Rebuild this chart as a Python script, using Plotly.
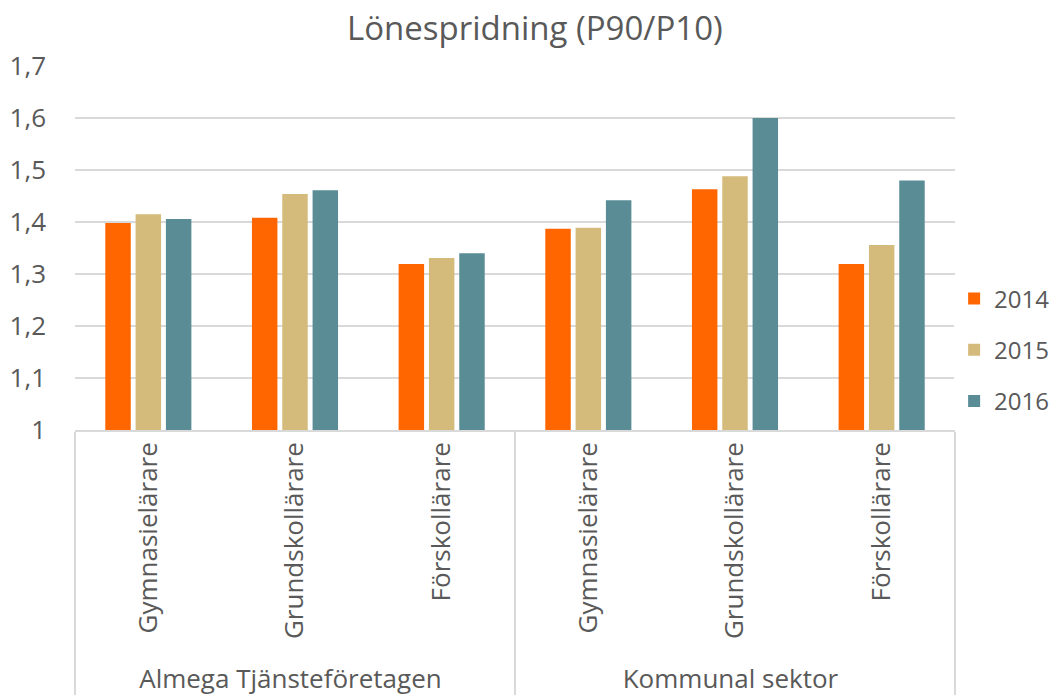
import plotly.graph_objects as go

groups = ["Almega Tjänsteföretagen"] * 3 + ["Kommunal sektor"] * 3
occupations = ["Gymnasielärare", "Grundskollärare", "Förskollärare"] * 2
years = ["2014", "2015", "2016"]
v2014 = [1.398, 1.408, 1.319, 1.387, 1.463, 1.319]
v2015 = [1.415, 1.454, 1.331, 1.389, 1.488, 1.356]
v2016 = [1.406, 1.461, 1.340, 1.442, 1.600, 1.480]
colors = ["#FF6600", "#D5BB7B", "#5A8C96"]

fig = go.Figure()
for name, vals, c in zip(years, [v2014, v2015, v2016], colors):
    fig.add_trace(go.Bar(
        x=[groups, occupations], y=vals, name=name, legendgroup=name,
        marker=dict(color=c, line=dict(width=0)),
    ))

font = "Open Sans, sans-serif"
fig.update_layout(
    width=1055, height=695,
    margin=dict(l=75, r=100, t=66, b=265, autoexpand=False),
    paper_bgcolor="white", plot_bgcolor="white",
    separators=", ",
    barmode="group", bargap=0.38, bargroupgap=0.16,
    title=dict(text="Lönespridning (P90/P10)", x=0.507, xanchor="center",
               y=0.975, yanchor="top",
               font=dict(family=font, size=33, color="#595959")),
    font=dict(family=font, size=26, color="#595959"),
    legend=dict(x=0.999, xanchor="left", y=0.22, yanchor="middle",
                font=dict(size=24, color="#595959"),
                itemwidth=30, tracegroupgap=17, traceorder="grouped"),
    yaxis=dict(range=[1, 1.7], dtick=0.1, showgrid=True, gridcolor="#D9D9D9",
               gridwidth=1.5, zeroline=False, showline=False, ticks="",
               automargin=False,
               tickfont=dict(size=26, color="#595959"), ticklabelstandoff=28),
    xaxis=dict(type="multicategory", tickangle=-90, showline=True,
               linecolor="#D9D9D9", linewidth=1.5, ticks="", automargin=False,
               dividercolor="#D9D9D9", dividerwidth=1.5,
               showdividers=True, tickfont=dict(size=26, color="#595959")),
)
fig.write_html("out.html", config={"displayModeBar": False},
               post_script="document.body.style.margin='0';")
